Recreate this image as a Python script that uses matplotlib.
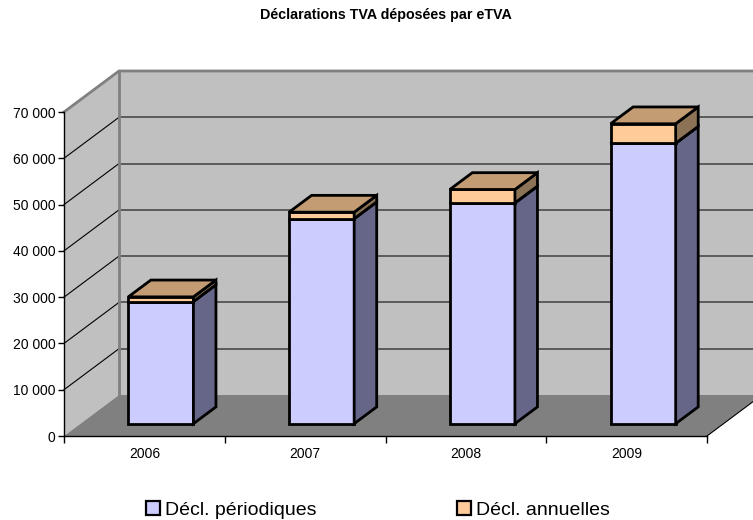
import matplotlib.pyplot as plt
from matplotlib.patches import Polygon, Patch

# Data
years = ["2006", "2007", "2008", "2009"]
periodiques = [26400, 44300, 47700, 60600]
annuelles = [1000, 1400, 2900, 4200]
y_ticks = [0, 10000, 20000, 30000, 40000, 50000, 60000, 70000]

# 3D look: depth of the box (in data units) and bar placement inside it
DEPTH_X, DEPTH_Y = 0.342, 8860
BAR_FRONT, BAR_DEPTH, BAR_WIDTH = 0.30, 0.41, 0.405
Y_MAX = 70000

plt.rcParams['font.family'] = ['Liberation Sans', 'DejaVu Sans']


def poly(ax, pts, color, edge='none', lw=0, z=1):
    ax.add_patch(Polygon(pts, closed=True, facecolor=color, edgecolor=edge,
                         linewidth=lw, clip_on=False, zorder=z, joinstyle='miter'))


def draw_walls(ax, n):
    dx, dy = DEPTH_X, DEPTH_Y
    # back wall, side wall, floor
    poly(ax, [(dx, dy), (n + dx, dy), (n + dx, Y_MAX + dy), (dx, Y_MAX + dy)], '#C0C0C0')
    poly(ax, [(0, 0), (dx, dy), (dx, Y_MAX + dy), (0, Y_MAX)], '#C0C0C0')
    poly(ax, [(0, 0), (n, 0), (n + dx, dy), (dx, dy)], '#808080', z=1.5)
    # gridlines on back and side wall
    for v in y_ticks[1:-1]:
        ax.plot([dx, n + dx], [v + dy, v + dy], color='#404040', lw=1.1, clip_on=False, zorder=1.2)
        ax.plot([0, dx], [v, v + dy], color='black', lw=0.8, clip_on=False, zorder=1.2)
    # wall borders
    ax.plot([0, dx, n + dx], [Y_MAX, Y_MAX + dy, Y_MAX + dy], color='#808080', lw=2,
            clip_on=False, zorder=1.3, solid_joinstyle='miter')
    ax.plot([dx, dx], [dy, Y_MAX + dy], color='#808080', lw=2, clip_on=False, zorder=1.3)
    ax.plot([n, n + dx], [0, dy], color='black', lw=0.8, clip_on=False, zorder=1.6)


def draw_block(ax, x0, x1, y0, y1, front, side, top):
    bdx, bdy = BAR_DEPTH * DEPTH_X, BAR_DEPTH * DEPTH_Y
    kw = dict(edge='black', lw=2.0, z=3)
    poly(ax, [(x0, y0), (x1, y0), (x1, y1), (x0, y1)], front, **kw)
    poly(ax, [(x1, y0), (x1 + bdx, y0 + bdy), (x1 + bdx, y1 + bdy), (x1, y1)], side, **kw)
    poly(ax, [(x0, y1), (x1, y1), (x1 + bdx, y1 + bdy), (x0 + bdx, y1 + bdy)], top, **kw)


fig = plt.figure(figsize=(7.53, 5.2), dpi=100)
ax = fig.add_axes([64 / 753, 84 / 520, 643 / 753, 324 / 520])
ax.set_xlim(0, len(years))
ax.set_ylim(0, Y_MAX)
ax.patch.set_visible(False)

draw_walls(ax, len(years))

fx, fy = BAR_FRONT * DEPTH_X, BAR_FRONT * DEPTH_Y
for i, (p, a) in enumerate(zip(periodiques, annuelles)):
    x0 = i + 0.5 - BAR_WIDTH / 2 + fx
    x1 = i + 0.5 + BAR_WIDTH / 2 + fx
    draw_block(ax, x0, x1, fy, fy + p, '#CCCCFF', '#666688', '#9999CC')
    draw_block(ax, x0, x1, fy + p, fy + p + a, '#FFCC99', '#8C7356', '#C49C74')

# axes
for s in ['top', 'right']:
    ax.spines[s].set_visible(False)
for s in ['left', 'bottom']:
    ax.spines[s].set_linewidth(1)
    ax.spines[s].set_zorder(2)
ax.set_yticks(y_ticks)
ax.set_yticklabels([f"{v:,}".replace(",", " ") for v in y_ticks])
ax.tick_params(axis='y', length=4, width=1, labelsize=10, pad=2)
ax.set_xticks(range(len(years) + 1))
ax.set_xticklabels([])
ax.set_xticks([i + 0.5 for i in range(len(years))], minor=True)
ax.set_xticklabels(years, minor=True)
ax.tick_params(axis='x', which='major', length=5, width=1)
ax.tick_params(axis='x', which='minor', length=0, labelsize=10, pad=8)

fig.text(386 / 753, 1 - 15 / 520, "Déclarations TVA déposées par eTVA",
         ha='center', va='center', fontsize=10.3, fontweight='bold')

handles = [Patch(facecolor='#CCCCFF', edgecolor='black', linewidth=1.6),
           Patch(facecolor='#FFCC99', edgecolor='black', linewidth=1.6)]
fig.legend(handles, ["Décl. périodiques", "Décl. annuelles"], loc='center',
           bbox_to_anchor=(378 / 753, 10 / 520), ncol=2, frameon=False, fontsize=14,
           handlelength=0.75, handleheight=0.75, handletextpad=0.25, columnspacing=7.2)

fig.savefig("out.png", dpi=100)
